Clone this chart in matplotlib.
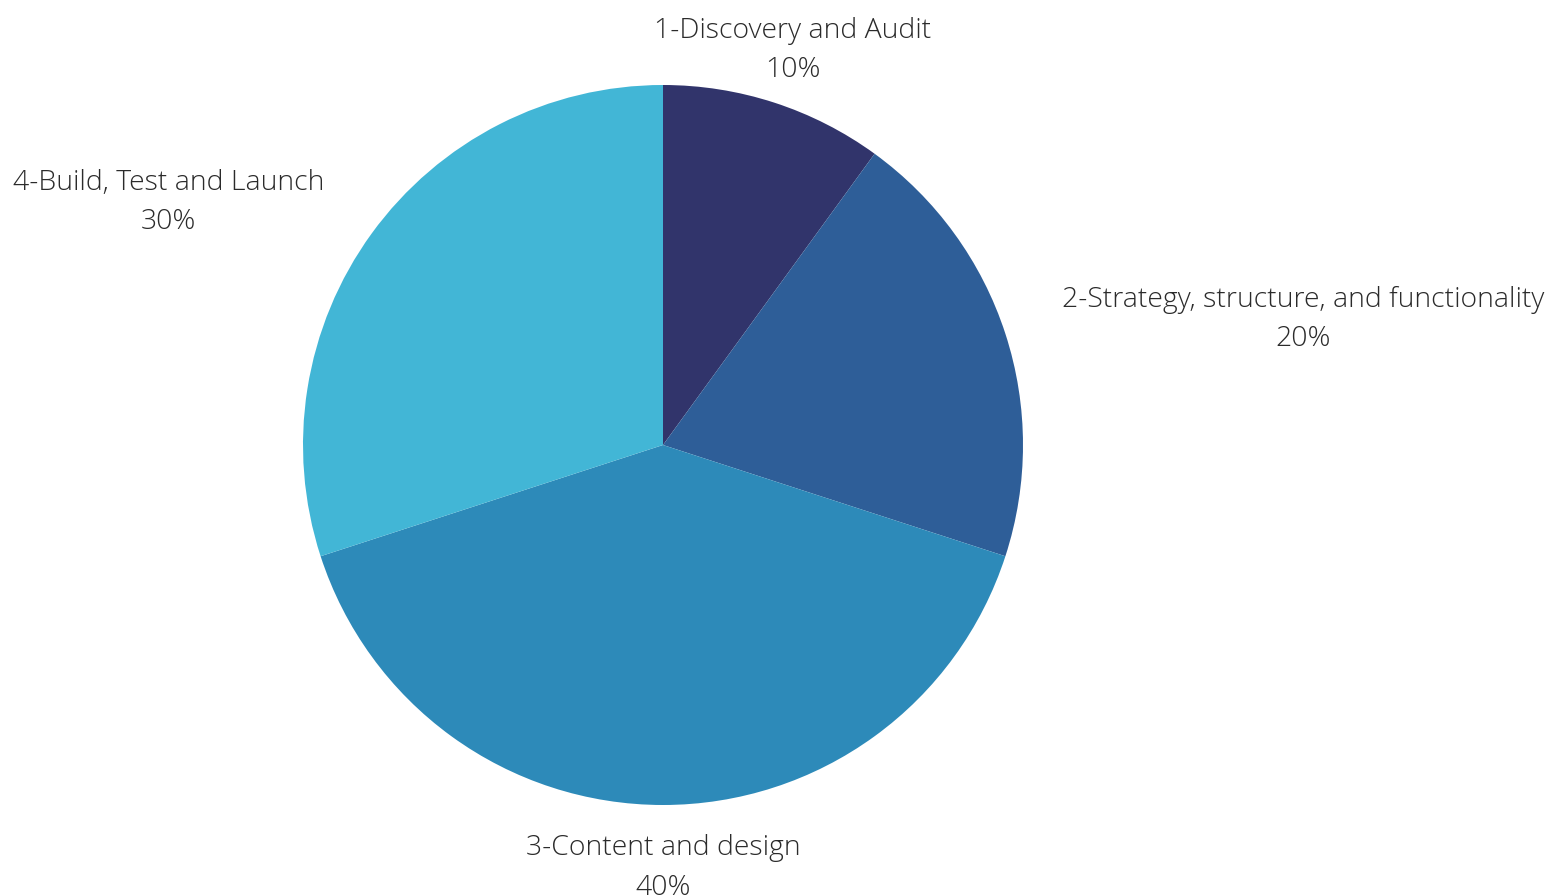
import matplotlib.pyplot as plt

# ── Data ───────────────────────────────────────────────────────────────────
phases = ["1-Discovery and Audit",
          "2-Strategy, structure, and functionality",
          "3-Content and design",
          "4-Build, Test and Launch"]
shares = [10, 20, 40, 30]
colors = ["#31346b", "#2e5e98", "#2d8ab9", "#42b6d6"]

# ── Figure ─────────────────────────────────────────────────────────────────
W, H = 1551, 896
fig = plt.figure(figsize=(W / 100, H / 100), dpi=100)
ax = fig.add_axes([0, 0, 1, 1])

R = 360.0
cx, cy = 663.0, 445.0

wedges, texts = ax.pie(
    shares, colors=colors, startangle=90, counterclock=False, radius=1.0,
    labels=[f"{p}\n{s}%" for p, s in zip(phases, shares)],
    labeldistance=1.164,
    wedgeprops=dict(linewidth=0),
    textprops=dict(fontsize=20.4, family="Open Sans", fontweight="light",
                   color="#2b2b2b", multialignment="center", va="center",
                   linespacing=1.53),
)
# top and bottom labels sit centred over their wedges
texts[0].set_ha("center")
texts[2].set_ha("center")
# nudge labels a few pixels down
for t in texts:
    x, y = t.get_position()
    t.set_position((x, y - 4 / R))

# pie() resets the limits, so set them afterwards
ax.set_xlim(-cx / R, (W - cx) / R)
ax.set_ylim(-(H - cy) / R, cy / R)
ax.set_aspect("equal")
ax.axis("off")

fig.savefig("out.png", dpi=100)
